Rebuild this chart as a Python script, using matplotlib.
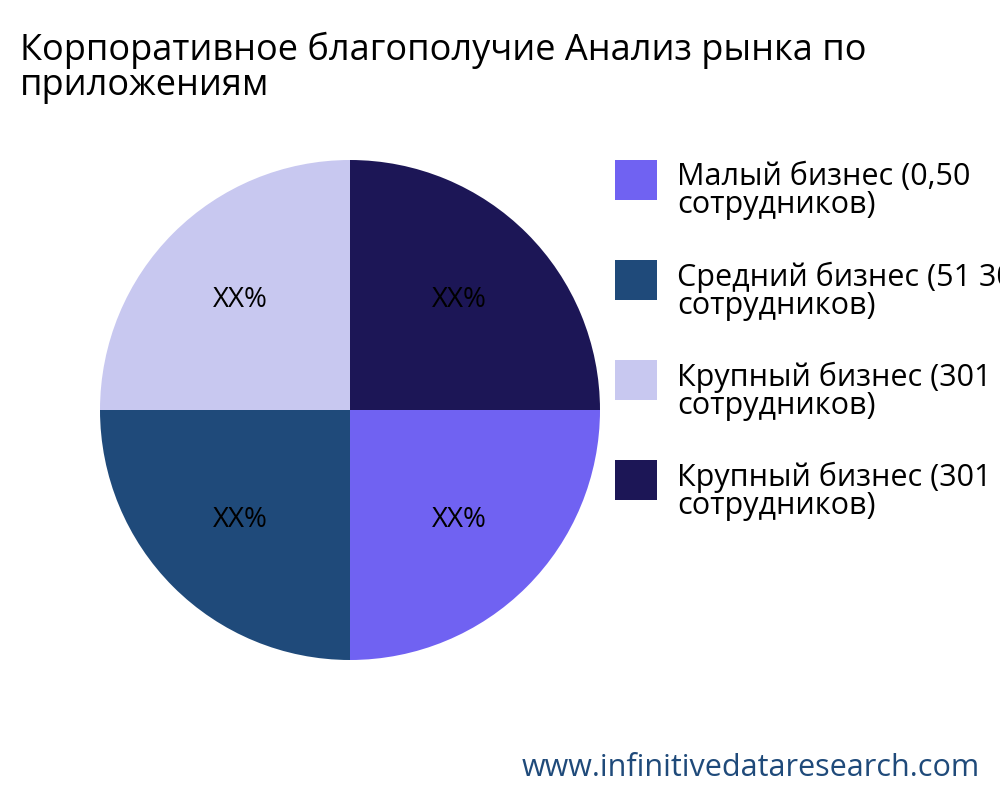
import matplotlib
matplotlib.use('Agg')
import matplotlib.pyplot as plt
from matplotlib.patches import Rectangle

plt.rcParams['font.family'] = ['Open Sans', 'DejaVu Sans']

categories = ['Малый бизнес (0,50\nсотрудников)', 'Средний бизнес (51 300\nсотрудников)',
              'Крупный бизнес (301 1000\nсотрудников)', 'Крупный бизнес (301 1000\nсотрудников)']
values = [25, 25, 25, 25]
labels = ['XX%', 'XX%', 'XX%', 'XX%']
colors = ['#7062f2', '#1f4a7a', '#c8c8f0', '#1c1656']

fig = plt.figure(figsize=(10, 8), dpi=100)
ax = fig.add_axes([0.0375, 0.096875, 0.625, 0.78125])
wedges, texts = ax.pie(values, colors=colors, startangle=0, counterclock=False,
                       labels=labels, labeldistance=0.62,
                       textprops=dict(fontsize=20, color='black', ha='center', va='center'))
ax.set_aspect('equal')

fig.text(0.02, 0.96, 'Корпоративное благополучие Анализ рынка по\nприложениям',
         fontsize=26, va='top', ha='left', linespacing=0.95)

for i, (c, col) in enumerate(zip(categories, colors)):
    ytop = 160 + i * 100
    fig.patches.append(Rectangle((615 / 1000, 1 - (ytop + 40) / 800), 42 / 1000, 40 / 800,
                                 transform=fig.transFigure, facecolor=col, edgecolor='none'))
    fig.text(677 / 1000, 1 - (ytop + 2) / 800, c, fontsize=22, va='top', ha='left', linespacing=0.9)

fig.text(0.98, 0.04, 'www.infinitivedataresearch.com', fontsize=22, color='#1f4a7a',
         ha='right', va='center')

fig.savefig('out.png', dpi=100)
